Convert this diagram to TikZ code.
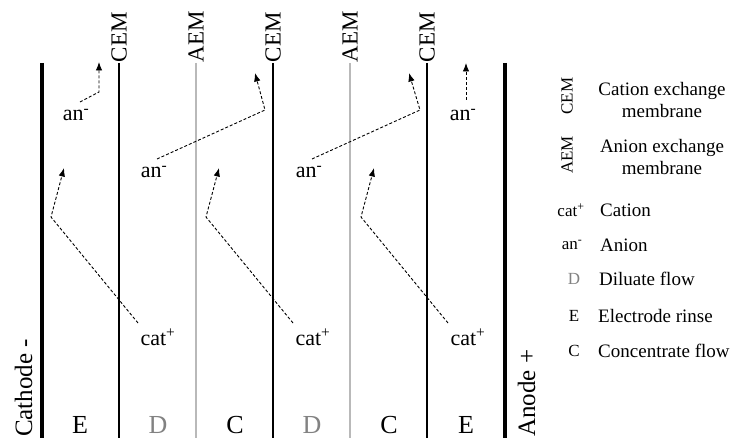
\documentclass[tikz,border=0pt]{standalone}
\usepackage{fontspec}
\setmainfont{Liberation Serif}
\usetikzlibrary{arrows.meta}
\definecolor{aemgray}{RGB}{185,185,185}
\definecolor{dgray}{RGB}{130,130,130}
\tikzset{
  electrode/.style={line width=4pt},
  cemline/.style={line width=1.3pt},
  aemline/.style={line width=1.3pt, draw=aemgray},
  memlabel/.style={rotate=90, anchor=west, inner sep=0.5pt, font=\fontsize{23}{26}\selectfont},
  zone/.style={anchor=south, inner sep=0pt, font=\fontsize{26}{29}\selectfont},
  ion/.style={inner sep=0pt, font=\fontsize{22}{24}\selectfont},
  polelabel/.style={rotate=90, anchor=base west, inner sep=0pt, font=\fontsize{25}{27}\selectfont},
  flux/.style={dashed, dash pattern=on 3pt off 2pt, line width=0.9pt,
    -{Latex[length=8.5pt,width=6.5pt]}},
  legsym/.style={inner sep=0pt, font=\fontsize{17}{19}\selectfont},
  legtext/.style={anchor=west, inner sep=0pt, font=\fontsize{19}{21}\selectfont},
  legtwo/.style={align=center, inner sep=0pt, font=\fontsize{19}{22}\selectfont},
}
\begin{document}
\begin{tikzpicture}[x=1pt, y=-1pt]
\useasboundingbox (0,0) rectangle (730,438);

% electrodes
\coordinate (cathTop) at (41.5,63);
\coordinate (cathBot) at (41.5,440);
\coordinate (anodTop) at (505,63);
\coordinate (anodBot) at (505,440);
\draw[electrode] (cathTop) -- (cathBot);
\draw[electrode] (anodTop) -- (anodBot);
\node[polelabel] (cathode) at (32,437) {Cathode -};
\node[polelabel] (anode) at (535,437) {Anode +};

% membranes
\foreach \name/\x/\kind in {c1/119/CEM, a1/196/AEM, c2/273/CEM, a2/350/AEM, c3/427/CEM}{
  \node[memlabel] (lab\name) at (\x,63) {\kind};
  \coordinate (bot\name) at (\x,440);
}
\draw[cemline] (labc1.west) -- (botc1);
\draw[cemline] (labc2.west) -- (botc2);
\draw[cemline] (labc3.west) -- (botc3);
\draw[aemline] (laba1.west) -- (bota1);
\draw[aemline] (laba2.west) -- (bota2);

% compartments
\node[zone] (z1) at (80,434) {E};
\node[zone, text=dgray] (z2) at (158,434) {D};
\node[zone] (z3) at (235,434) {C};
\node[zone, text=dgray] (z4) at (312,434) {D};
\node[zone] (z5) at (389,434) {C};
\node[zone] (z6) at (466,434) {E};

% anions
\node[ion] (an1) at (76,115) {an\textsuperscript{-}};
\node[ion] (an2) at (154,172) {an\textsuperscript{-}};
\node[ion] (an3) at (309,172) {an\textsuperscript{-}};
\node[ion] (an4) at (463,115) {an\textsuperscript{-}};
\coordinate (an1s) at (80,102);  \coordinate (an1k) at (99,92);   \coordinate (an1t) at (99,62);
\coordinate (an2s) at (157,159); \coordinate (an2k) at (265,110); \coordinate (an2t) at (255,73);
\coordinate (an3s) at (312,159); \coordinate (an3k) at (420,110); \coordinate (an3t) at (409,73);
\coordinate (an4s) at (466,100); \coordinate (an4t) at (466,63);
\draw[flux] (an1s) -- (an1k) -- (an1t);
\draw[flux] (an2s) -- (an2k) -- (an2t);
\draw[flux] (an3s) -- (an3k) -- (an3t);
\draw[flux] (an4s) -- (an4t);

% cations
\foreach \i/\dx in {1/0, 2/155, 3/310}{
  \node[ion] (cat\i) at (158+\dx,337) {cat\textsuperscript{+}};
  \coordinate (cat\i s) at (138+\dx,323);
  \coordinate (cat\i k) at (51+\dx,217);
  \coordinate (cat\i t) at (64+\dx,168);
  \draw[flux] (cat\i s) -- (cat\i k) -- (cat\i t);
}

% legend
\node[legsym, rotate=90] (lgcem) at (567,96) {CEM};
\node[legtwo] (lgcemt) at (662,100) {Cation exchange\\membrane};
\node[legsym, rotate=90] (lgaem) at (567,155) {AEM};
\node[legtwo] (lgaemt) at (662,157) {Anion exchange\\membrane};
\node[legsym] (lgcat) at (571,210) {cat\textsuperscript{+}};
\node[legtext] (lgcatt) at (600,210) {Cation};
\node[legsym] (lgan) at (572,245) {an\textsuperscript{-}};
\node[legtext] (lgant) at (600,245) {Anion};
\node[legsym, text=dgray] (lgd) at (574,279) {D};
\node[legtext] (lgdt) at (599,279) {Diluate flow};
\node[legsym] (lge) at (574,316) {E};
\node[legtext] (lget) at (598,316) {Electrode rinse};
\node[legsym] (lgc) at (574,351) {C};
\node[legtext] (lgct) at (598,351) {Concentrate flow};
\end{tikzpicture}
\end{document}
